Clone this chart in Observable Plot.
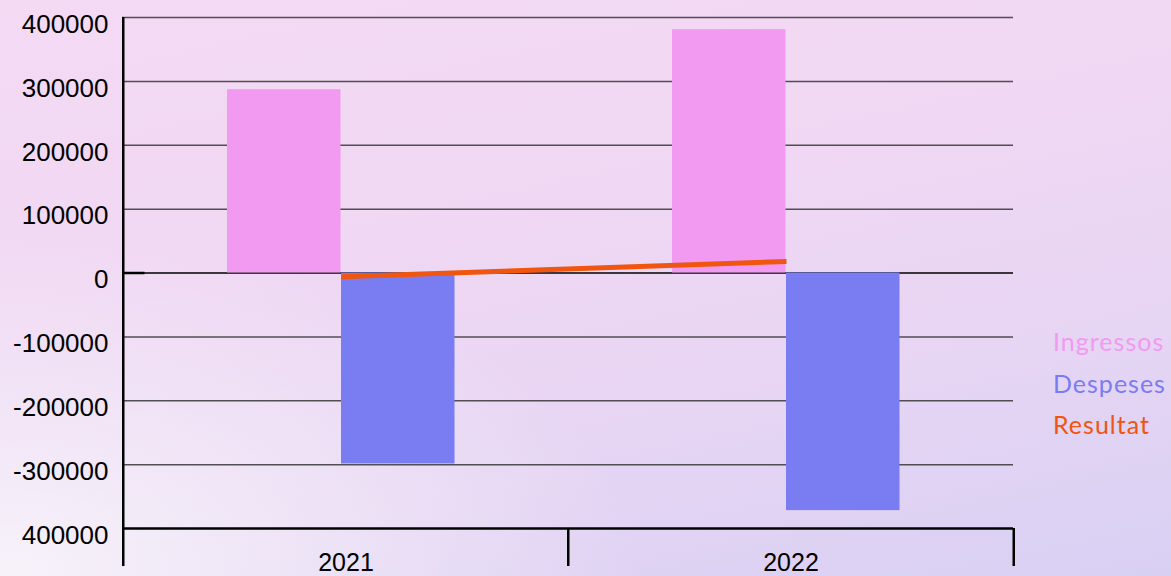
<!DOCTYPE html>
<html>
<head>
<meta charset="utf-8">
<script src="https://cdn.jsdelivr.net/npm/d3@7"></script>
<script src="https://cdn.jsdelivr.net/npm/@observablehq/plot@0.6"></script>
<style>
  html, body { margin: 0; padding: 0; }
  #wrap {
    position: relative; width: 1171px; height: 576px; overflow: hidden;
    background:
      radial-gradient(ellipse 55% 60% at 0% 100%, rgba(248,244,250,0.95) 0%, rgba(248,244,250,0) 100%),
      linear-gradient(168deg, #f4daf3 0%, #f1d8f3 35%, #e6d5f3 70%, #d8d0f3 100%);
  }
  #legend {
    position: absolute; left: 1053px; top: 321px;
    font-family: Lato, "Noto Sans", sans-serif; font-size: 25px; line-height: 41.5px; letter-spacing: 1px;
  }
</style>
</head>
<body>
<div id="wrap"><div id="chart"></div><div id="legend"></div></div>
<script>
const years = ["2021", "2022"];
const ingressos = [287000, 381000];
const despeses = [-299000, -372000];
const resultat = [-6000, 18000];
const yTicks = [400000, 300000, 200000, 100000, 0, -100000, -200000, -300000, -400000];
const yTickLabels = ["400000", "300000", "200000", "100000", "0", "-100000", "-200000", "-300000", "400000"];
const seriesNames = ["Ingressos", "Despeses", "Resultat"];
const seriesColors = ["#f29af2", "#7a7cf2", "#f0560f"];

const rows = years.map((y, i) => ({year: y, ingressos: ingressos[i], despeses: despeses[i], resultat: resultat[i]}));

const W = 1171, H = 576, mL = 122, mR = 158, mT = 17, mB = 48;
const step = (W - mL - mR) / years.length;

const chart = Plot.plot({
  width: W, height: H,
  marginLeft: mL, marginRight: mR, marginTop: mT, marginBottom: mB,
  style: {fontFamily: "'Liberation Sans', Arial, sans-serif", fontSize: "26px", background: "transparent", color: "#000", overflow: "visible"},
  x: {type: "band", domain: years, padding: 0, label: null},
  y: {domain: [-400000, 400000], label: null},
  marks: [
    Plot.gridY({ticks: yTicks.filter(d => d !== 0 && d !== -400000), stroke: "#2a2a2a", strokeOpacity: 0.8, strokeWidth: 1.5}),
    Plot.ruleY([0], {stroke: "#000", strokeWidth: 1.5}),
    Plot.ruleY([-400000], {stroke: "#000", strokeWidth: 2.5}),
    Plot.barY(rows, {x: "year", y: "ingressos", fill: seriesColors[0], insetLeft: 104, insetRight: step - 218}),
    Plot.barY(rows, {x: "year", y: "despeses", fill: seriesColors[1], insetLeft: 218, insetRight: step - 332}),
    Plot.line(rows, {x: "year", y: "resultat", stroke: seriesColors[2], strokeWidth: 5, dx: -4.5, strokeLinecap: "butt"}),
    Plot.ruleX([years[0]], {dx: -step / 2, stroke: "#000", strokeWidth: 2.5}),
    Plot.tickY([0], {x: () => years[0], y: d => d, insetRight: step - 22, stroke: "#000", strokeWidth: 2.5}),
    Plot.axisX({tickSize: 38, fill: "none", stroke: "#000", strokeWidth: 2.5, dx: -step / 2, label: null}),
    Plot.axisX({ticks: [years[1]], tickSize: 38, fill: "none", stroke: "#000", strokeWidth: 2.5, dx: step / 2, label: null}),
    Plot.axisX({tickSize: 0, tickPadding: 25, fontSize: 25, label: null}),
    Plot.axisY({ticks: yTicks, tickSize: 0, tickPadding: 14, dy: 7, fontSize: 26, label: null,
      tickFormat: d => yTickLabels[yTicks.indexOf(d)]})
  ]
});
document.getElementById("chart").appendChild(chart);

const legend = document.getElementById("legend");
seriesNames.forEach((n, i) => {
  const d = document.createElement("div");
  d.textContent = n;
  d.style.color = seriesColors[i];
  legend.appendChild(d);
});
</script>
</body>
</html>
